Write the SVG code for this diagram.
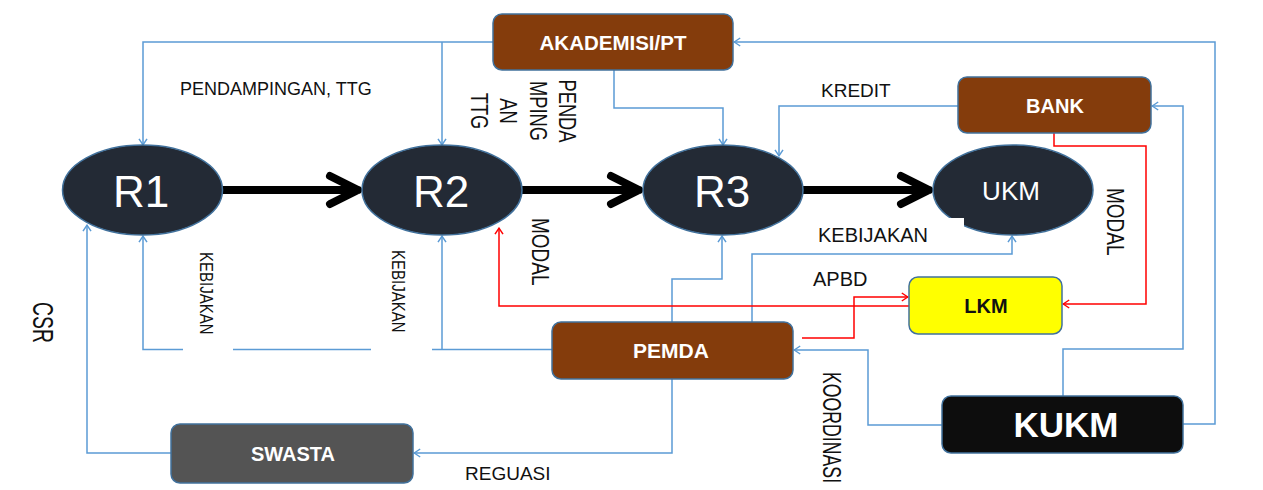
<svg xmlns="http://www.w3.org/2000/svg" width="1263" height="490" viewBox="0 0 1263 490">
  <style>
    .node-r { fill: #232a35; stroke: #41719c; stroke-width: 1.5; }
    .box { stroke: #41719c; stroke-width: 1.5; }
    .brown { fill: #843c0c; }
    .big { font-family: "Liberation Sans", Arial, sans-serif; font-size: 44px; fill: #ffffff; text-anchor: middle; }
    .lbl { font-family: "Liberation Sans", Arial, sans-serif; font-weight: bold; fill: #ffffff; text-anchor: middle; }
    .txt { font-family: "Liberation Sans", Arial, sans-serif; fill: #111111; }
    .blue { fill: none; stroke: #5b9bd5; stroke-width: 1.5; marker-end: url(#ab); }
    .red { fill: none; stroke: #ff0000; stroke-width: 1.5; marker-end: url(#ar); }
    .flow { fill: none; stroke: #000000; stroke-width: 8; stroke-linecap: round; stroke-linejoin: round; }
  </style>
  <defs>
    <marker id="ab" viewBox="0 0 8 10" refX="7.2" refY="5" markerWidth="8" markerHeight="10" markerUnits="userSpaceOnUse" orient="auto">
      <path d="M1,1 L7,5 L1,9" fill="none" stroke="#5b9bd5" stroke-width="1.5"/>
    </marker>
    <marker id="ar" viewBox="0 0 8 10" refX="7.2" refY="5" markerWidth="8" markerHeight="10" markerUnits="userSpaceOnUse" orient="auto">
      <path d="M1,1 L7,5 L1,9" fill="none" stroke="#ff0000" stroke-width="1.5"/>
    </marker>
  </defs>

  <rect width="1263" height="490" fill="#ffffff"/>

  <!-- connectors -->
  <g id="connectors">
    <path class="blue" d="M493,42 H143 V145"/>
    <path class="blue" d="M442,42 V145"/>
    <path class="blue" d="M614,70 V108 H723 V145"/>
    <path class="blue" d="M1183,424 H1215 V42 H734"/>
    <path class="blue" d="M1063,396 V349 H1183 V106 H1152"/>
    <path class="blue" d="M958,106 H779 V156"/>
    <path class="blue" d="M552,349.5 H143 V236"/>
    <path class="blue" d="M442,349.5 V236"/>
    <path class="blue" d="M171,453 H87 V225"/>
    <path class="blue" d="M672,379 V453 H414"/>
    <path class="blue" d="M672,322 V279 H722 V236"/>
    <path class="blue" d="M752,322 V254 H1012 V236"/>
    <path class="blue" d="M942,425 H868 V350 H794"/>
    <path class="red" d="M1054,133 V146 H1146 V304 H1063"/>
    <path class="red" d="M909,306 H499 V228"/>
    <path class="red" d="M802,338 H854 V297 H908"/>
    <!-- main flow arrows -->
    <path class="flow" d="M223,190 H358 M330,176 L358,190 L330,204"/>
    <path class="flow" d="M522,190 H639 M611,176 L639,190 L611,204"/>
    <path class="flow" d="M803,190 H929 M901,176 L929,190 L901,204"/>
  </g>

  <!-- nodes -->
  <g id="R1"><ellipse class="node-r" cx="142.5" cy="190" rx="80" ry="45"/><text class="big" x="141" y="207">R1</text></g>
  <g id="R2"><ellipse class="node-r" cx="442" cy="190" rx="80" ry="45"/><text class="big" x="441" y="207">R2</text></g>
  <g id="R3"><ellipse class="node-r" cx="723" cy="190" rx="80" ry="45"/><text class="big" x="722" y="207">R3</text></g>
  <g id="UKM"><ellipse class="node-r" cx="1013" cy="190" rx="80" ry="45"/><text class="big" x="1011" y="200" style="font-size:26px">UKM</text></g>

  <g id="AKADEMISI"><rect class="box brown" x="493" y="14" width="240" height="56" rx="9"/><text class="lbl" x="613" y="50" style="font-size:20.5px">AKADEMISI/PT</text></g>
  <g id="BANK"><rect class="box brown" x="958" y="77" width="193" height="56" rx="9"/><text class="lbl" x="1055" y="113" style="font-size:20px">BANK</text></g>
  <g id="LKM"><rect class="box" x="909" y="277" width="153" height="57" rx="9" fill="#ffff00"/><text class="lbl" x="986" y="313" style="font-size:20px;fill:#111111">LKM</text></g>
  <g id="PEMDA"><rect class="box brown" x="552" y="322" width="241" height="57" rx="9"/><text class="lbl" x="671" y="358" style="font-size:21px">PEMDA</text></g>
  <g id="SWASTA"><rect class="box" x="171" y="424" width="242" height="59" rx="9" fill="#545454"/><text class="lbl" x="293" y="461" style="font-size:20px">SWASTA</text></g>
  <g id="KUKM"><rect class="box" x="942" y="396" width="241" height="57" rx="9" fill="#0d0d0d"/><text class="lbl" x="1066" y="437" style="font-size:35px">KUKM</text></g>

  <!-- labels -->
  <g id="labels">
    <rect x="183" y="240" width="50" height="115" fill="#ffffff"/>
    <rect x="371" y="240" width="61" height="115" fill="#ffffff"/>
    <rect x="810" y="218" width="154" height="30" fill="#ffffff"/>
    <text class="txt" x="180" y="95" style="font-size:18px">PENDAMPINGAN, TTG</text>
    <text class="txt" x="821" y="97" style="font-size:19px">KREDIT</text>
    <text class="txt" x="818" y="242" style="font-size:20px">KEBIJAKAN</text>
    <text class="txt" x="813" y="286" style="font-size:20px">APBD</text>
    <text class="txt" x="465" y="480" style="font-size:19px">REGUASI</text>
    <text class="txt" transform="translate(200,252) rotate(90) scale(1,1.26)" style="font-size:15px">KEBIJAKAN</text>
    <text class="txt" transform="translate(392,250) rotate(90) scale(1,1.26)" style="font-size:15px">KEBIJAKAN</text>
    <text class="txt" transform="translate(532,218) rotate(90) scale(1,1.25)" style="font-size:19px">MODAL</text>
    <text class="txt" transform="translate(1107,188) rotate(90) scale(1,1.25)" style="font-size:19px">MODAL</text>
    <text class="txt" transform="translate(823,372) rotate(90) scale(1,1.45)" style="font-size:17.7px">KOORDINASI</text>
    <text class="txt" transform="translate(33,302) rotate(90) scale(1,1.55)" style="font-size:19.4px">CSR</text>
    <g style="font-size:18.3px;text-anchor:middle">
      <text class="txt" transform="translate(559,111) rotate(90) scale(1,1.35)" text-anchor="middle">PENDA</text>
      <text class="txt" transform="translate(530,111) rotate(90) scale(1,1.35)" text-anchor="middle">MPING</text>
      <text class="txt" transform="translate(500,111) rotate(90) scale(1,1.35)" text-anchor="middle">AN</text>
      <text class="txt" transform="translate(471,111) rotate(90) scale(1,1.35)" text-anchor="middle">TTG</text>
    </g>
  </g>
</svg>
